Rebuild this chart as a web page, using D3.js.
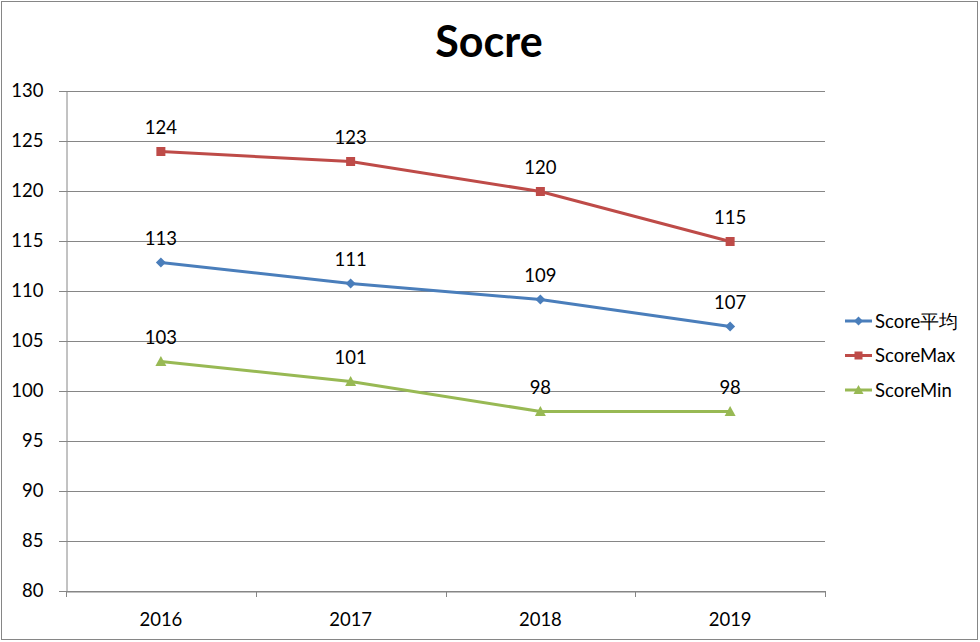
<!DOCTYPE html>
<html>
<head>
<meta charset="utf-8">
<script src="https://cdn.jsdelivr.net/npm/d3@7"></script>
<style>
  body { margin: 0; background: #fff; }
  text { font-family: Lato, "Open Sans", sans-serif; }
</style>
</head>
<body>
<div id="chart-area"></div>
<script>
const years = ["2016", "2017", "2018", "2019"];
const scoreAvg = [112.9, 110.8, 109.2, 106.5];
const scoreMax = [124, 123, 120, 115];
const scoreMin = [103, 101, 98, 98];
const yTicks = [80, 85, 90, 95, 100, 105, 110, 115, 120, 125, 130];

const series = [
    { name: "Score平均", values: scoreAvg, color: "#4a7ebb", shape: "diamond" },
    { name: "ScoreMax", values: scoreMax, color: "#be4b48", shape: "square" },
    { name: "ScoreMin", values: scoreMin, color: "#98b954", shape: "triangle" }
];

const config = {
    width: 980,
    height: 642,
    margin: { left: 66, right: 155, top: 91, bottom: 51 }
};
config.chartWidth = config.width - config.margin.left - config.margin.right;
config.chartHeight = config.height - config.margin.top - config.margin.bottom;

const svg = d3.select('#chart-area')
    .append('svg')
    .attr("width", config.width)
    .attr("height", config.height);

svg.append('rect')
    .attr('x', 1.5).attr('y', 1.5)
    .attr('width', config.width - 4).attr('height', config.height - 4)
    .attr('fill', 'white')
    .attr('stroke', '#868686');

svg.append('text')
    .attr('x', 489)
    .attr('y', 57)
    .attr('text-anchor', 'middle')
    .attr('font-size', '43px')
    .attr('font-weight', 'bold')
    .text("Socre");

const g = svg.append('g')
    .attr("transform", `translate(${config.margin.left}, ${config.margin.top})`);

const xScale = d3.scaleBand()
    .domain(years)
    .range([0, config.chartWidth]);

const yScale = d3.scaleLinear()
    .domain([80, 130])
    .range([config.chartHeight, 0]);

// gridlines
g.append('g')
    .selectAll('line')
    .data(yTicks)
    .join('line')
    .attr('x1', -7)
    .attr('x2', config.chartWidth)
    .attr('y1', d => yScale(d) + 0.5)
    .attr('y2', d => yScale(d) + 0.5)
    .attr('stroke', '#868686');

const yAxisGroup = g.append('g')
    .attr('transform', 'translate(0.5,0)')
    .call(d3.axisLeft(yScale).tickValues(yTicks).tickSize(0).tickPadding(23));
yAxisGroup.selectAll("text").attr('font-size', '18.5px').style("fill", "black")
    .attr('font-family', 'Lato, sans-serif');
yAxisGroup.selectAll(".domain").style("stroke", "#868686");

const xAxisGroup = g.append('g')
    .attr('transform', `translate(0, ${config.chartHeight + 0.5})`)
    .call(d3.axisBottom(xScale).tickSize(0).tickPadding(21));
xAxisGroup.selectAll("text").attr('font-size', '18.5px').style("fill", "black")
    .attr('font-family', 'Lato, sans-serif');
xAxisGroup.selectAll(".domain").style("stroke", "#868686");

// category boundary ticks
g.append('g')
    .selectAll('line')
    .data(years.concat(["end"]))
    .join('line')
    .attr('x1', (d, i) => Math.round(i * xScale.step()) + 0.5)
    .attr('x2', (d, i) => Math.round(i * xScale.step()) + 0.5)
    .attr('y1', config.chartHeight)
    .attr('y2', config.chartHeight + 6)
    .attr('stroke', '#868686');

const cx = d => xScale(d) + xScale.bandwidth() / 2;

function marker(sel, shape, color, size) {
    if (shape === "diamond") {
        sel.append('path').attr('d', `M0,${-size}L${size},0L0,${size}L${-size},0Z`).attr('fill', color);
    } else if (shape === "square") {
        sel.append('rect').attr('x', -size).attr('y', -size).attr('width', size * 2).attr('height', size * 2).attr('fill', color);
    } else {
        sel.append('path').attr('d', `M0,${-size - 1}L${size + 1},${size}L${-size - 1},${size}Z`).attr('fill', color);
    }
}

const line = d3.line()
    .x((d, i) => cx(years[i]))
    .y(d => yScale(d) + 0.5);

series.forEach(s => {
    g.append('path')
        .datum(s.values)
        .attr('d', line)
        .attr('fill', 'none')
        .attr('stroke', s.color)
        .attr('stroke-width', 3);

    s.values.forEach((v, i) => {
        const m = g.append('g').attr('transform', `translate(${cx(years[i])},${yScale(v) + 0.5})`);
        marker(m, s.shape, s.color, s.shape === "diamond" ? 5 : 4.5);
        g.append('text')
            .attr('x', cx(years[i]))
            .attr('y', yScale(v) - 17)
            .attr('text-anchor', 'middle')
            .attr('font-size', '18.5px')
            .text(Math.round(v));
    });
});

// legend
const legend = svg.append('g').attr('transform', 'translate(845, 321)');
series.forEach((s, i) => {
    const row = legend.append('g').attr('transform', `translate(0, ${i * 34.5})`);
    row.append('line').attr('x1', 0).attr('x2', 27).attr('y1', 0).attr('y2', 0)
        .attr('stroke', s.color).attr('stroke-width', 3);
    const m = row.append('g').attr('transform', 'translate(13.5,0)');
    marker(m, s.shape, s.color, s.shape === "diamond" ? 4.5 : 4);
    row.append('text')
        .attr('x', 30)
        .attr('y', 6.5)
        .attr('font-size', '18.5px')
        .text(s.name);
});
</script>
</body>
</html>
